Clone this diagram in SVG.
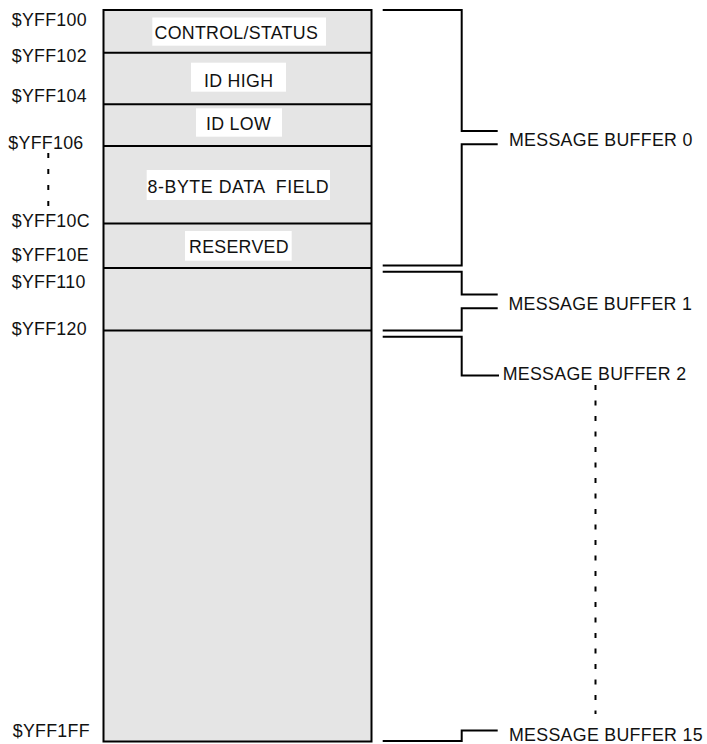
<svg xmlns="http://www.w3.org/2000/svg" width="707" height="744" viewBox="0 0 707 744">
  <style>
    text { font-family: "Liberation Sans", Arial, sans-serif; font-size: 17.8px; fill: #111; letter-spacing: 0.3px; white-space: pre; }
    .line { fill: none; stroke: #000; stroke-width: 2; }
    .lbl { fill: #fff; }
    .dot { stroke: #000; stroke-width: 2; stroke-dasharray: 5 11; fill: none; }
    .dot2 { stroke: #000; stroke-width: 2; stroke-dasharray: 5 10.5; fill: none; }
  </style>
  <rect width="707" height="744" fill="#fff"/>

  <g id="memory-block">
    <rect x="103.5" y="10" width="268" height="731.5" fill="#e5e5e5" stroke="#000" stroke-width="2"/>
    <line class="line" x1="103.5" y1="52.7" x2="371.5" y2="52.7"/>
    <line class="line" x1="103.5" y1="104.2" x2="371.5" y2="104.2"/>
    <line class="line" x1="103.5" y1="146" x2="371.5" y2="146"/>
    <line class="line" x1="103.5" y1="223.5" x2="371.5" y2="223.5"/>
    <line class="line" x1="103.5" y1="268" x2="371.5" y2="268"/>
    <line class="line" x1="103.5" y1="330.5" x2="371.5" y2="330.5"/>
  </g>

  <g id="field-control-status">
    <rect class="lbl" x="152.3" y="17.5" width="173.7" height="28.2"/>
    <text x="154.5" y="39.3">CONTROL/STATUS</text>
  </g>
  <g id="field-id-high">
    <rect class="lbl" x="191" y="62.7" width="95" height="29"/>
    <text x="204" y="86.7">ID HIGH</text>
  </g>
  <g id="field-id-low">
    <rect class="lbl" x="196" y="108.3" width="86" height="28.4"/>
    <text x="206" y="130">ID LOW</text>
  </g>
  <g id="field-data">
    <rect class="lbl" x="146.7" y="170" width="183.3" height="30"/>
    <text x="147.5" y="193.3" textLength="181" lengthAdjust="spacing" style="letter-spacing:0">8-BYTE DATA  FIELD</text>
  </g>
  <g id="field-reserved">
    <rect class="lbl" x="185" y="231" width="106.7" height="29.7"/>
    <text x="189" y="253.3">RESERVED</text>
  </g>

  <g id="addresses">
    <text x="11.7" y="26">$YFF100</text>
    <text x="11.7" y="62">$YFF102</text>
    <text x="11.7" y="101.7">$YFF104</text>
    <text x="8.3" y="149">$YFF106</text>
    <text x="11.7" y="226.5">$YFF10C</text>
    <text x="11.7" y="261">$YFF10E</text>
    <text x="11.7" y="288.3">$YFF110</text>
    <text x="11.7" y="335">$YFF120</text>
    <text x="12.7" y="736.5">$YFF1FF</text>
  </g>

  <g id="connectors">
    <line class="dot" x1="48.3" y1="153" x2="48.3" y2="208"/>
    <path class="line" d="M382.7,10 H461.7 V131 H497.7"/>
    <path class="line" d="M497.7,144.3 H461.7 V265.5 H382.7"/>
    <path class="line" d="M382.7,271.7 H461.7 V294.5 H497.7"/>
    <path class="line" d="M497.7,308.3 H461.7 V330.5 H382.7"/>
    <path class="line" d="M382.7,336.7 H461.7 V375.5 H499"/>
    <line class="dot2" x1="595.5" y1="385" x2="595.5" y2="714"/>
    <path class="line" d="M382.7,741 H461.7 V730.5 H497.7"/>
  </g>

  <g id="buffer-labels">
    <text x="509" y="146">MESSAGE BUFFER 0</text>
    <text x="508.5" y="309.5">MESSAGE BUFFER 1</text>
    <text x="502.7" y="379.5">MESSAGE BUFFER 2</text>
    <text x="509" y="740.5">MESSAGE BUFFER 15</text>
  </g>
</svg>
